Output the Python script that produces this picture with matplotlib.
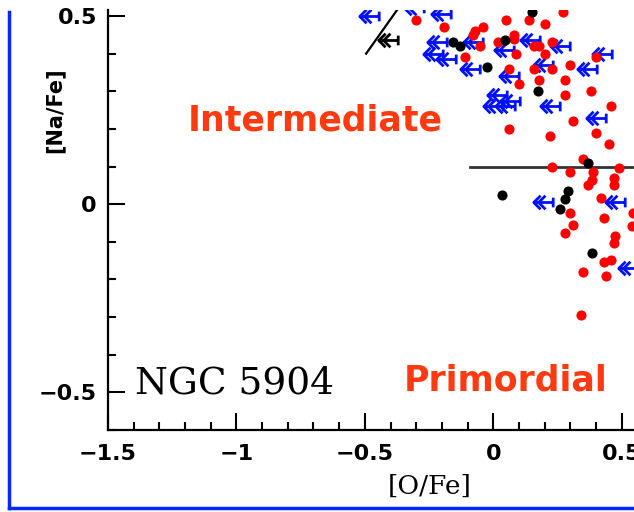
import numpy as np
import matplotlib
matplotlib.use("Agg")
import matplotlib.pyplot as plt
from matplotlib.path import Path
from matplotlib.lines import Line2D

# red points: [O/Fe], [Na/Fe]
red_ofe = [-0.30, -0.19, -0.08, -0.07, -0.04, -0.05, -0.11, 0.05, 0.14, 0.20, 0.27,
           0.08, 0.08, 0.02, 0.09, 0.16, 0.18, 0.23, 0.20, 0.40, 0.06, 0.16, 0.23,
           0.30, 0.10, 0.18, 0.28, 0.38, 0.28, 0.46, 0.06, 0.31, 0.22, 0.40, 0.45,
           0.35, 0.23, 0.30, 0.39, 0.385, 0.37, 0.47, 0.47, 0.49, 0.30, 0.42, 0.43,
           0.545, 0.31, 0.28, 0.54, 0.475, 0.47, 0.43, 0.46, 0.35, 0.44, 0.34]
red_nafe = [0.49, 0.47, 0.45, 0.46, 0.47, 0.42, 0.39, 0.49, 0.49, 0.48, 0.51,
            0.45, 0.44, 0.43, 0.40, 0.42, 0.42, 0.43, 0.40, 0.39, 0.36, 0.36, 0.36,
            0.37, 0.32, 0.33, 0.33, 0.30, 0.29, 0.26, 0.20, 0.22, 0.18, 0.19, 0.16,
            0.12, 0.10, 0.085, 0.085, 0.064, 0.05, 0.07, 0.05, 0.095, -0.024, 0.016, -0.037,
            -0.024, -0.056, -0.077, -0.059, -0.085, -0.104, -0.154, -0.149, -0.18, -0.19, -0.295]

# black points
blk_ofe = [-0.155, -0.13, -0.025, 0.045, 0.15, 0.175, 0.37, 0.035, 0.29, 0.28, 0.26, 0.385]
blk_nafe = [0.43, 0.42, 0.365, 0.435, 0.51, 0.30, 0.11, 0.025, 0.035, 0.013, -0.013, -0.13]

# blue upper limits in [O/Fe]
lim_ofe = [-0.485, -0.31, -0.205, -0.22, -0.235, -0.185, -0.09, -0.08, 0.04, 0.145, 0.26,
           0.195, 0.06, 0.365, 0.425, 0.015, 0.065, 0.0, 0.045, 0.22, 0.40, 0.195,
           0.475, 0.525]
lim_nafe = [0.50, 0.52, 0.505, 0.43, 0.40, 0.385, 0.36, 0.43, 0.41, 0.435, 0.42,
            0.37, 0.34, 0.36, 0.40, 0.29, 0.275, 0.26, 0.26, 0.26, 0.23, 0.005,
            0.005, -0.17]

# black limit marker and dilution segment
arrow_pt = (-0.41, 0.435)
seg_x = [-0.495, -0.36]
seg_y = [0.40, 0.53]
hline_y = 0.1
hline_x = [-0.09, 0.6]

# double-headed left arrow marker
verts = [(-0.5, 0), (0.5, 0),
         (-0.15, 0.35), (-0.5, 0), (-0.15, -0.35),
         (0.1, 0.35), (-0.25, 0), (0.1, -0.35),
         (0.5, 0.25), (0.5, -0.25)]
codes = [Path.MOVETO, Path.LINETO,
         Path.MOVETO, Path.LINETO, Path.LINETO,
         Path.MOVETO, Path.LINETO, Path.LINETO,
         Path.MOVETO, Path.LINETO]
larrow = Path(verts, codes)

fig = plt.figure(figsize=(6.34, 5.12), dpi=100)
ax = fig.add_axes([108 / 634, 82 / 512, 1 - 108 / 634, (502 - 82) / 512])

ax.plot(hline_x, [hline_y, hline_y], color="#333333", lw=2, zorder=1)
ax.plot(seg_x, seg_y, color="black", lw=1.6, zorder=1)
ax.plot(*arrow_pt, marker=larrow, ms=14, mec="black", mfc="none", mew=2, ls="none")

ax.plot(lim_ofe, lim_nafe, marker=larrow, ms=14, mec="#0010ff", mfc="none",
        mew=2, ls="none", zorder=3)
ax.plot(red_ofe, red_nafe, "o", ms=7.3, color="#ff0000", mec="none", zorder=4)
ax.plot(blk_ofe, blk_nafe, "o", ms=7.3, color="black", mec="none", zorder=5)

ax.set_xlim(-1.5, 0.548)
ax.set_ylim(-0.6, 0.516)
ax.set_xticks([-1.5, -1, -0.5, 0, 0.5])
ax.set_xticklabels(["\u22121.5", "\u22121", "\u22120.5", "0", "0.5"])
ax.set_yticks([-0.5, 0, 0.5])
ax.set_yticklabels(["\u22120.5", "0", "0.5"])
ax.set_xticks(np.arange(-1.5, 0.55, 0.1), minor=True)
ax.set_yticks(np.arange(-0.6, 0.52, 0.1), minor=True)
ax.tick_params(which="major", direction="in", length=12, width=1.5)
ax.tick_params(which="minor", direction="in", length=6, width=1.5)
ax.tick_params(axis="x", pad=10)
ax.tick_params(axis="y", pad=8)
for lab in ax.get_xticklabels() + ax.get_yticklabels():
    lab.set_fontsize(16)
    lab.set_fontweight("bold")

for side in ["top", "right"]:
    ax.spines[side].set_visible(False)
for side in ["left", "bottom"]:
    ax.spines[side].set_linewidth(1.6)

ax.set_xlabel("[O/Fe]", family="DejaVu Serif", fontsize=19)
ax.set_ylabel("[Na/Fe]", fontsize=15, fontweight="bold")
ax.xaxis.set_label_coords(0.612, -0.105)
ax.yaxis.set_label_coords(-0.082, 0.762)

ax.text(-1.395, -0.503, "NGC 5904", family="DejaVu Serif", fontsize=27)
ax.text(-1.19, 0.197, "Intermediate", color="#ff3a10", fontsize=25, fontweight="bold")
ax.text(-0.35, -0.495, "Primordial", color="#ff3a10", fontsize=25, fontweight="bold")

# blue frame on the left and bottom
fig.add_artist(Line2D([9 / 634, 9 / 634], [4 / 512, 500 / 512], color="#0028ff", lw=2.5))
fig.add_artist(Line2D([9 / 634, 1], [4 / 512, 4 / 512], color="#0028ff", lw=2.5))

fig.savefig("out.png", dpi=100)
